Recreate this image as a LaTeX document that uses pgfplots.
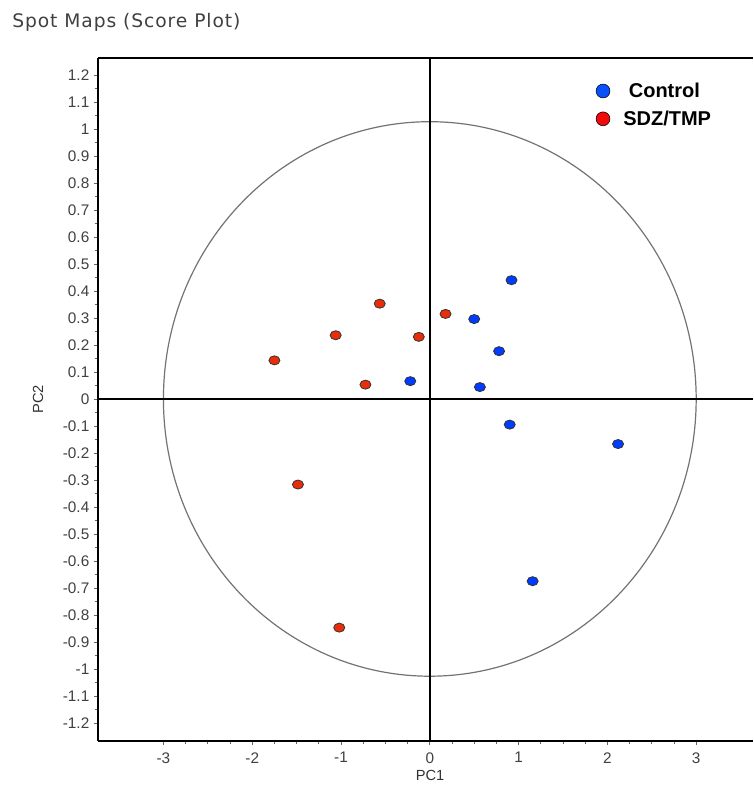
\documentclass[border=0pt]{standalone}
\usepackage{pgfplots}
\pgfplotsset{compat=1.18}
\usepackage{fontspec}
\setmainfont{Liberation Sans}
\newfontfamily\titlefont[LetterSpace=5]{DejaVu Sans}
\definecolor{ptred}{RGB}{232,45,10}
\definecolor{ptblue}{RGB}{0,60,255}
\definecolor{legred}{RGB}{240,10,10}
\definecolor{legblue}{RGB}{10,80,250}
\begin{document}
\begin{tikzpicture}
\useasboundingbox (-73.5pt,-33pt) rectangle (491.25pt,555.75pt);
\begin{axis}[
  at={(0pt,0pt)}, anchor=south west,
  scale only axis, width=491.25pt, height=512.25pt,
  xmin=-3.737, xmax=3.64, ymin=-1.267, ymax=1.263,
  axis x line*=bottom, axis y line*=left,
  axis line style={line width=1.5pt},
  xtick={-3,-2,-1,0,1,2,3},
  xticklabels={-3,-2,-1,0,1,2,3},
  minor x tick num=3,
  ytick={-1.2,-1.1,-1,-0.9,-0.8,-0.7,-0.6,-0.5,-0.4,-0.3,-0.2,-0.1,0,0.1,0.2,0.3,0.4,0.5,0.6,0.7,0.8,0.9,1,1.1,1.2},
  yticklabels={-1.2,-1.1,-1,-0.9,-0.8,-0.7,-0.6,-0.5,-0.4,-0.3,-0.2,-0.1,0,0.1,0.2,0.3,0.4,0.5,0.6,0.7,0.8,0.9,1,1.1,1.2},
  minor y tick num=1,
  tick align=outside,
  major tick length=3pt, minor tick length=2.5pt,
  tick style={black!60, line width=0.6pt},
  tick label style={font=\fontsize{11.5}{12}\selectfont, text=black!75},
  x tick label style={yshift=-2pt},
  /pgf/number format/assume math mode=true,
  xlabel={PC1}, ylabel={PC2},
  label style={font=\fontsize{11}{12}\selectfont, text=black!80},
  xlabel style={at={(axis description cs:0.507,0)}, anchor=center, yshift=-25.5pt},
  ylabel style={at={(axis description cs:-0.0916,0.5)}, anchor=center},
  legend style={draw=none, fill=none, at={(axis description cs:0.758,0.97)}, anchor=north west,
    font=\bfseries\fontsize{15}{17}\selectfont, row sep=4.5pt, column sep=8pt, inner sep=1pt},
  legend cell align=left,
]
\draw[black!55, line width=0.9pt] (axis cs:0,0) ellipse [x radius=3.0, y radius=1.027];
\draw[black, line width=1.1pt] (axis cs:0,-1.267) -- (axis cs:0,1.263);
\draw[black, line width=1.1pt] (axis cs:-3.737,0) -- (axis cs:3.64,0);
\draw[black, line width=1.5pt] (rel axis cs:0,1) -- (rel axis cs:1,1);

\addplot[forget plot, only marks, mark=*, mark size=3.4pt,
  mark options={xscale=1.22, fill=ptblue, draw=black!80, line width=0.6pt}]
  coordinates {(0.92,0.44) (0.50,0.296) (0.78,0.177) (-0.22,0.066) (0.564,0.044) (0.90,-0.095) (2.12,-0.167) (1.158,-0.675)};
\addplot[forget plot, only marks, mark=*, mark size=3.4pt,
  mark options={xscale=1.22, fill=ptred, draw=black!80, line width=0.6pt}]
  coordinates {(-0.564,0.353) (-1.06,0.236) (-1.75,0.143) (-0.725,0.053) (-0.124,0.23) (0.177,0.315) (-1.485,-0.317) (-1.02,-0.847)};

\addlegendimage{only marks, mark=*, mark size=5.2pt, mark options={fill=legblue, draw=none}}
\addlegendentry{\ Control}
\addlegendimage{only marks, mark=*, mark size=5.2pt, mark options={fill=legred, draw=none}}
\addlegendentry{SDZ/TMP}
\end{axis}
\node[anchor=base west, font=\titlefont\fontsize{14}{16}\selectfont, text=black!75, inner sep=0pt]
  at (-64.5pt,535pt) {Spot Maps (Score Plot)};
\end{tikzpicture}
\end{document}
